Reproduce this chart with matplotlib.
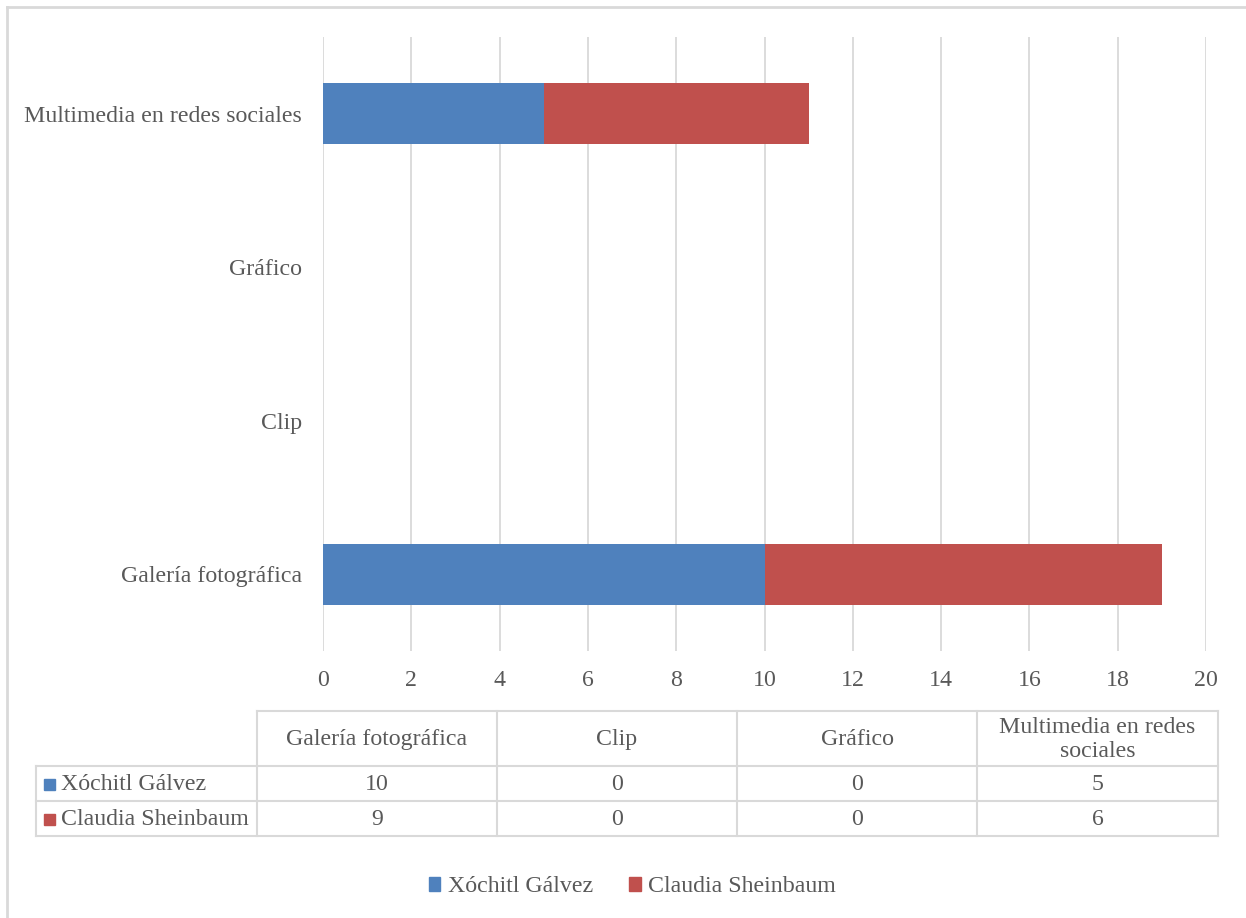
import textwrap

import matplotlib
matplotlib.use("Agg")
import matplotlib.pyplot as plt
from matplotlib.patches import Patch

# -------------------------------------------------
# Datos
# -------------------------------------------------
categorias = ["Galería fotográfica", "Clip", "Gráfico", "Multimedia en redes sociales"]
series = ["Xóchitl Gálvez", "Claudia Sheinbaum"]
xochitl = [10, 0, 0, 5]
claudia = [9, 0, 0, 6]
x_ticks = [0, 2, 4, 6, 8, 10, 12, 14, 16, 18, 20]

AZUL = "#4F81BD"
ROJO = "#C0504D"
GRIS_TEXTO = "#595959"
GRIS_LINEA = "#D9D9D9"
FS = 17.2

plt.rcParams["font.family"] = ["Liberation Serif", "DejaVu Serif"]

W, H = 1246, 918
fig = plt.figure(figsize=(W / 100, H / 100), dpi=100)


def px_axes(x0, y0, x1, y1):
    """Ejes definidos en píxeles (origen arriba-izquierda)."""
    return fig.add_axes([x0 / W, 1 - y1 / H, (x1 - x0) / W, (y1 - y0) / H])


# -------------------------------------------------
# Barras apiladas horizontales
# -------------------------------------------------
ax = px_axes(323, 37, 1206, 651)
ypos = list(range(len(categorias)))
ax.barh(ypos, xochitl, height=0.4, color=AZUL, zorder=3, label=series[0])
ax.barh(ypos, claudia, left=xochitl, height=0.4, color=ROJO, zorder=3, label=series[1])

ax.set_xlim(0, 20)
ax.set_ylim(-0.5, 3.5)
ax.set_xticks(x_ticks)
ax.set_yticks(ypos)
ax.set_yticklabels(categorias)
ax.grid(True, axis="x", color=GRIS_LINEA, linewidth=1.3, zorder=0)
for s in ax.spines.values():
    s.set_visible(False)
ax.tick_params(axis="both", length=0, labelsize=FS, labelcolor=GRIS_TEXTO)
ax.tick_params(axis="y", pad=15)
ax.tick_params(axis="x", pad=14)

# -------------------------------------------------
# Tabla de datos + borde + leyenda (capa en píxeles)
# -------------------------------------------------
ov = fig.add_axes([0, 0, 1, 1], zorder=-1)
ov.set_xlim(0, W)
ov.set_ylim(H, 0)
ov.axis("off")

# borde del gráfico (solo visible arriba e izquierda)
ov.plot([7, W], [7, 7], color=GRIS_LINEA, lw=2.0)
ov.plot([7, 7], [7, H], color=GRIS_LINEA, lw=2.0)

col_x = [257, 497, 737, 977, 1218]
row_y = [711, 766, 801, 836]
lab_x0 = 36
lw_t = 1.5

# líneas horizontales
ov.plot([col_x[0], col_x[-1]], [row_y[0], row_y[0]], color=GRIS_LINEA, lw=lw_t)
for y in row_y[1:]:
    ov.plot([lab_x0, col_x[-1]], [y, y], color=GRIS_LINEA, lw=lw_t)
# líneas verticales
for x in col_x:
    ov.plot([x, x], [row_y[0], row_y[-1]], color=GRIS_LINEA, lw=lw_t)
ov.plot([lab_x0, lab_x0], [row_y[1], row_y[-1]], color=GRIS_LINEA, lw=lw_t)

# encabezados
for i, cat in enumerate(categorias):
    xc = (col_x[i] + col_x[i + 1]) / 2
    yc = (row_y[0] + row_y[1]) / 2
    ov.text(xc, yc + 1, textwrap.fill(cat, 22), ha="center", va="center",
            fontsize=FS, color=GRIS_TEXTO, linespacing=1.2)

# filas de valores
for r, (nombre, vals, color) in enumerate(zip(series, [xochitl, claudia], [AZUL, ROJO])):
    yc = (row_y[r + 1] + row_y[r + 2]) / 2
    ov.add_patch(plt.Rectangle((44, yc - 5), 11, 11, color=color))
    ov.text(61, yc + 1, nombre, ha="left", va="center", fontsize=FS, color=GRIS_TEXTO)
    for i, v in enumerate(vals):
        xc = (col_x[i] + col_x[i + 1]) / 2
        ov.text(xc, yc + 1, str(v), ha="center", va="center", fontsize=FS, color=GRIS_TEXTO)

# leyenda inferior
handles = [Patch(color=AZUL, label=series[0]), Patch(color=ROJO, label=series[1])]
leg = fig.legend(handles=handles, loc="center", bbox_to_anchor=(632 / W, 1 - 887 / H),
                 ncol=2, frameon=False, fontsize=FS, handlelength=0.5, handleheight=0.5,
                 handletextpad=0.3, columnspacing=1.5)
for t in leg.get_texts():
    t.set_color(GRIS_TEXTO)

fig.savefig("out.png", dpi=100, facecolor="white")
